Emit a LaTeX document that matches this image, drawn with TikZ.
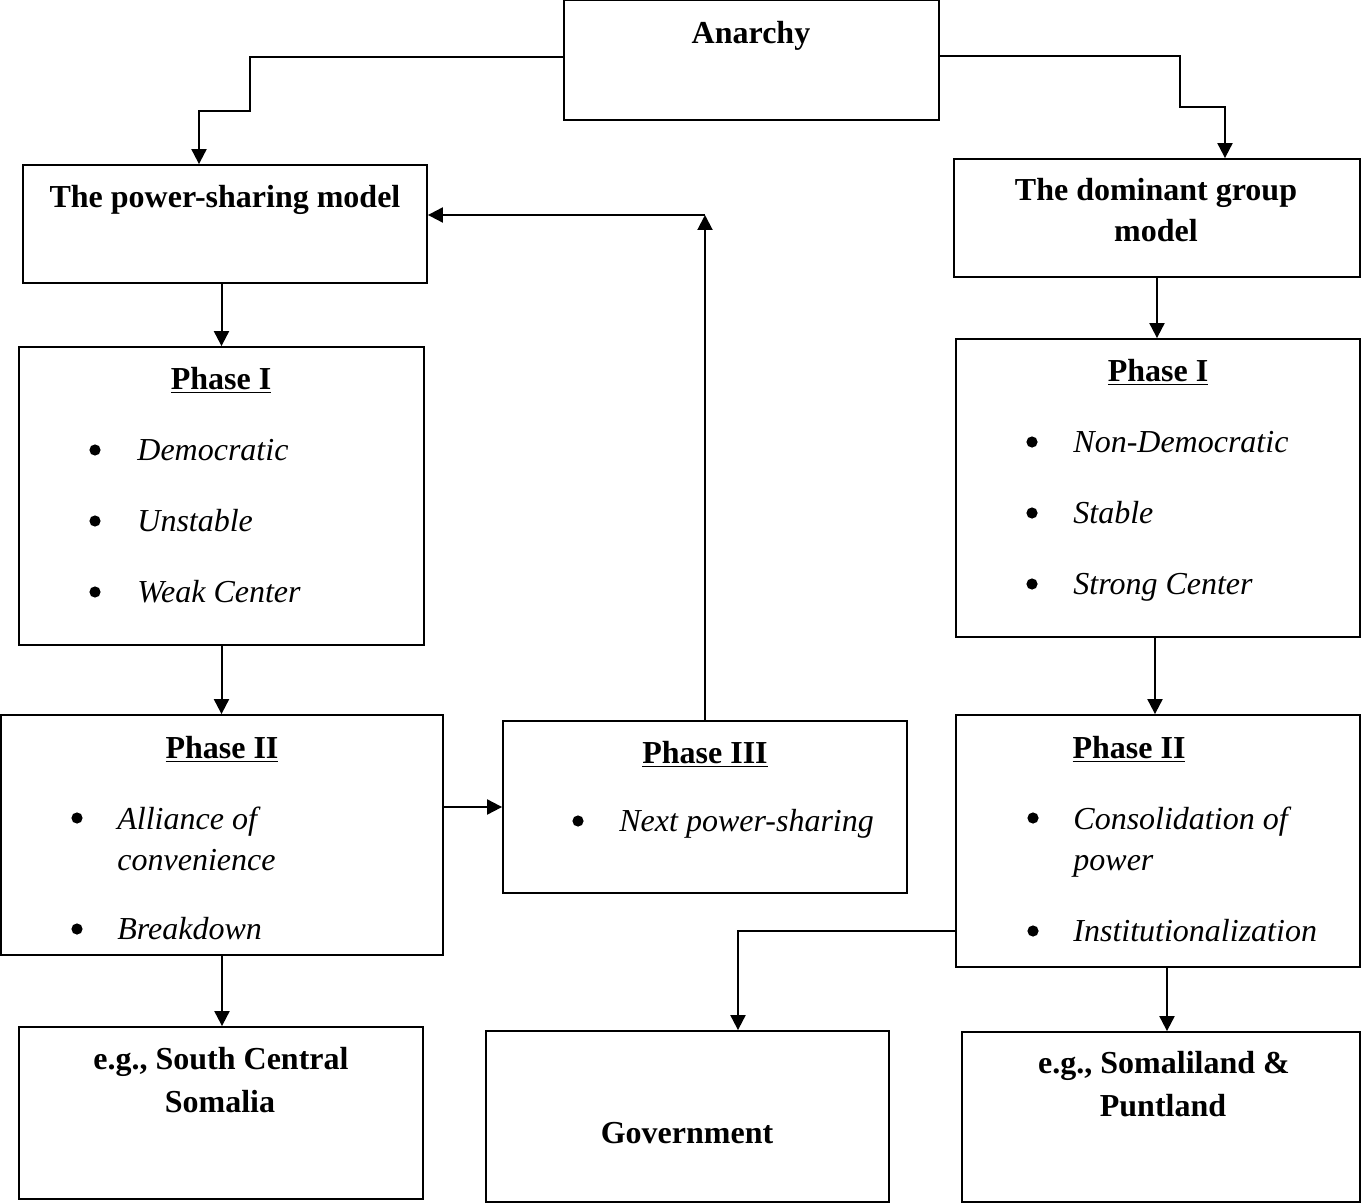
\documentclass[tikz,border=0pt]{standalone}
\usepackage{fontspec}
\setmainfont{Liberation Serif}
\usetikzlibrary{arrows.meta,fit}
\begin{document}
\begin{tikzpicture}[x=0.5pt,y=-0.5pt,
  box/.style={draw, line width=0.9pt, inner sep=0pt, rectangle},
  head/.style={inner sep=0pt, anchor=base, font=\fontsize{16}{19}\selectfont\bfseries},
  item/.style={inner sep=0pt, anchor=base west, font=\fontsize{16}{19}\selectfont\itshape},
  dot/.style={circle, fill, inner sep=0pt, minimum size=5.6pt},
  arr/.style={line width=1pt, -{Triangle[length=7.5pt,width=7.5pt]}}]
\useasboundingbox (0,0) rectangle (1362,1204);

% boxes
\node[box, fit={(564,0) (939,120)}] (an) {};
\node[box, fit={(23,165) (427,283)}] (ps) {};
\node[box, fit={(954,159) (1360,277)}] (dg) {};
\node[box, fit={(19,347) (424,645)}] (p1l) {};
\node[box, fit={(956,339) (1360,637)}] (p1r) {};
\node[box, fit={(1,715) (443,955)}] (p2l) {};
\node[box, fit={(503,721) (907,893)}] (p3) {};
\node[box, fit={(956,715) (1360,967)}] (p2r) {};
\node[box, fit={(19,1027) (423,1199)}] (sc) {};
\node[box, fit={(486,1031) (889,1202)}] (gov) {};
\node[box, fit={(962,1032) (1360,1202)}] (sl) {};

% headings
\node[head] (an-t) at (751,44) {Anarchy};
\node[head] (ps-t) at (225,208) {The power-sharing model};
\node[head] (dg-t1) at (1156,201) {The dominant group};
\node[head] (dg-t2) at (1156,242) {model};
\node[head] (p1l-t) at (221,389) {\underline{Phase I}};
\node[head] (p1r-t) at (1158,381) {\underline{Phase I}};
\node[head] (p2l-t) at (222,758) {\underline{Phase II}};
\node[head] (p3-t) at (705,763) {\underline{Phase III}};
\node[head] (p2r-t) at (1129,758) {\underline{Phase II}};
\node[head] (sc-t1) at (221,1069) {e.g., South Central};
\node[head] (sc-t2) at (220,1112) {Somalia};
\node[head] (gov-t) at (687,1143) {Government};
\node[head] (sl-t1) at (1164,1073) {e.g., Somaliland \&};
\node[head] (sl-t2) at (1163,1116) {Puntland};

% phase I, power-sharing side
\node[dot] (b1) at (95,450) {};
\node[item] (i1) at (137,460) {Democratic};
\node[dot] (b2) at (95,521) {};
\node[item] (i2) at (137,531) {Unstable};
\node[dot] (b3) at (95,592) {};
\node[item] (i3) at (137,602) {Weak Center};

% phase I, dominant group side
\node[dot] (b4) at (1032,442) {};
\node[item] (i4) at (1073,452) {Non-Democratic};
\node[dot] (b5) at (1032,513) {};
\node[item] (i5) at (1073,523) {Stable};
\node[dot] (b6) at (1032,584) {};
\node[item] (i6) at (1073,594) {Strong Center};

% phase II, power-sharing side
\node[dot] (b7) at (77,818) {};
\node[item] (i7a) at (117,829) {Alliance of};
\node[item] (i7b) at (117,870) {convenience};
\node[dot] (b8) at (77,929) {};
\node[item] (i8) at (117,939) {Breakdown};

% phase III
\node[dot] (b9) at (578,821) {};
\node[item] (i9) at (619,831) {Next power-sharing};

% phase II, dominant group side
\node[dot] (b10) at (1033,818) {};
\node[item] (i10a) at (1073,829) {Consolidation of};
\node[item] (i10b) at (1073,870) {power};
\node[dot] (b11) at (1033,931) {};
\node[item] (i11) at (1073,941) {Institutionalization};

% connectors
\draw[arr] (an.west |- 0,57) -- (250,57) -- (250,111) -- (199,111) -- (199,111 |- ps.north);
\draw[arr] (an.east |- 0,56) -- (1180,56) -- (1180,107) -- (1225,107) -- (1225,107 |- dg.north);
\draw[arr] (p1l.north |- ps.south) -- (p1l.north);
\draw[arr] (dg.south) -- (dg.south |- p1r.north);
\draw[arr] (p1l.south) -- (p1l.south |- p2l.north);
\draw[arr] (1155,0 |- p1r.south) -- (1155,0 |- p2r.north);
\draw[arr] (p2l.east |- p3.west) -- (p3.west);
\coordinate (turn) at (705,215);
\draw[arr] (p3.north) -- (turn);
\draw[arr] (turn) -- (ps.east |- turn);
\draw[arr] (p2l.south) -- (p2l.south |- sc.north);
\draw[arr] (p2r.west |- 0,931) -- (738,931) -- (738,931 |- gov.north);
\draw[arr] (1167,0 |- p2r.south) -- (1167,0 |- sl.north);
\end{tikzpicture}
\end{document}
